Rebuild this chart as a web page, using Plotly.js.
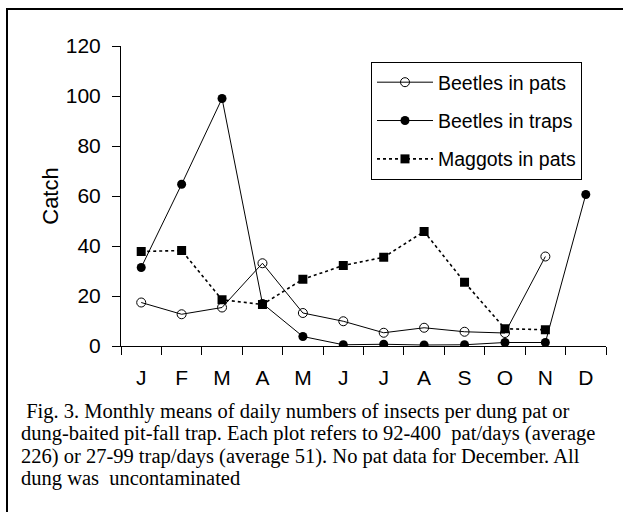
<!DOCTYPE html>
<html>
<head>
<meta charset="utf-8">
<script src="https://cdn.plot.ly/plotly-3.0.1.min.js"></script>
<style>
html,body{margin:0;padding:0;background:#fff;overflow:hidden;}
#wrap{position:relative;width:623px;height:512px;overflow:hidden;}
#chart{width:623px;height:512px;}
#frame{position:absolute;left:6px;top:8px;width:700px;height:600px;border-left:2px solid #000;border-top:2px solid #000;pointer-events:none;}
</style>
</head>
<body>
<div id="wrap">
<div id="chart"></div>
<div id="frame"></div>
</div>
<script>
// ---- data ----
var monthLabels = ['J','F','M','A','M','J','J','A','S','O','N','D'];
var beetlesInPats  = [17.4, 12.7, 15.4, 33.1, 13.2, 9.9, 5.3, 7.3, 5.7, 5.2, 35.8, null];
var beetlesInTraps = [31.4, 64.7, 99.0, 17.0, 3.8, 0.5, 0.7, 0.4, 0.5, 1.4, 1.4, 60.6];
var maggotsInPats  = [37.8, 38.2, 18.5, 16.6, 26.7, 32.2, 35.5, 45.8, 25.5, 6.9, 6.5, null];
var yTicks = [0, 20, 40, 60, 80, 100, 120];
var captionLines = [
  '\u00a0Fig. 3. Monthly means of daily numbers of insects per dung pat or',
  'dung-baited pit-fall trap. Each plot refers to 92-400 \u00a0pat/days (average',
  '226) or 27-99 trap/days (average 51). No pat data for December. All',
  'dung was \u00a0uncontaminated'
];

var xIdx = monthLabels.map(function(_, i){ return i; });

// ---- geometry helpers (pixel -> paper) ----
var W = 623, H = 512, L = 121, R = 17, T = 46, B = 166;
var pw = W - L - R, ph = H - T - B;
function px(x){ return (x - L) / pw; }
function py(y){ return (H - B - y) / ph; }

var sans = 'Arial, "Liberation Sans", sans-serif';
var serif = '"Times New Roman", "Liberation Serif", serif';

var traces = [
  {
    x: xIdx, y: beetlesInPats, name: 'Beetles in pats', legendgroup: 'a',
    mode: 'lines+markers', type: 'scatter',
    line: {color: '#000', width: 1},
    marker: {symbol: 'circle-open', size: 9, color: '#000', line: {width: 1, color: '#000'}}
  },
  {
    x: xIdx, y: beetlesInTraps, name: 'Beetles in traps', legendgroup: 'b',
    mode: 'lines+markers', type: 'scatter',
    line: {color: '#000', width: 1},
    marker: {symbol: 'circle', size: 9, color: '#000'}
  },
  {
    x: xIdx, y: maggotsInPats, name: 'Maggots in pats', legendgroup: 'c',
    mode: 'lines+markers', type: 'scatter',
    line: {color: '#000', width: 1.6, dash: 'dot'},
    marker: {symbol: 'square', size: 9, color: '#000'}
  }
];

var annotations = captionLines.map(function(t, i){
  return {
    xref: 'paper', yref: 'paper', x: px(19), y: py(411 + i * 22.5),
    xanchor: 'left', yanchor: 'middle', showarrow: false, align: 'left',
    text: t, font: {family: serif, size: 20.5, color: '#000'}
  };
});

var layout = {
  width: W, height: H,
  margin: {l: L, r: R, t: T, b: B, pad: 0},
  paper_bgcolor: '#fff', plot_bgcolor: '#fff',
  font: {family: sans, color: '#000'},
  showlegend: true,
  legend: {
    x: px(371), y: py(62), xanchor: 'left', yanchor: 'top',
    bordercolor: '#000', borderwidth: 1, bgcolor: '#fff',
    font: {family: sans, size: 19.5, color: '#000'},
    tracegroupgap: 10, itemwidth: 56
  },
  xaxis: {
    type: 'linear', range: [-0.5, 11.5], fixedrange: true,
    tickmode: 'array', tickvals: xIdx, ticktext: monthLabels,
    ticks: '', showgrid: false, zeroline: false,
    showline: true, linecolor: '#000', linewidth: 1,
    tickfont: {family: sans, size: 21, color: '#000'},
    ticklabelstandoff: 13,
    minor: {tick0: -0.5, dtick: 1, ticks: 'outside', ticklen: 8, tickcolor: '#000', tickwidth: 1, showgrid: false}
  },
  yaxis: {
    range: [0, 120], fixedrange: true,
    tickmode: 'array', tickvals: yTicks,
    ticks: 'outside', ticklen: 8, tickcolor: '#000', tickwidth: 1,
    showgrid: false, zeroline: false,
    showline: true, linecolor: '#000', linewidth: 1,
    tickfont: {family: sans, size: 21, color: '#000'},
    ticklabelstandoff: 7,
    title: {text: 'Catch', font: {family: sans, size: 22, color: '#000'}, standoff: 1}
  },
  annotations: annotations
};

Plotly.newPlot('chart', traces, layout, {staticPlot: true, displayModeBar: false});
</script>
</body>
</html>
